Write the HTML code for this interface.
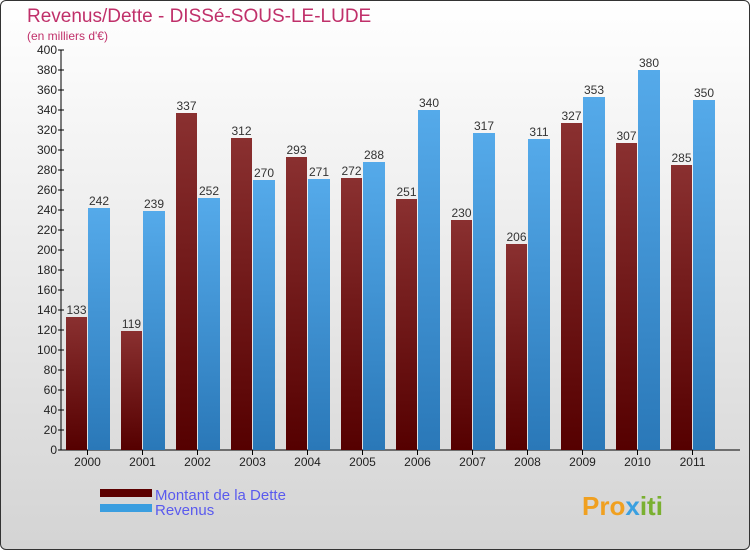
<!DOCTYPE html>
<html><head><meta charset="utf-8"><style>
body{margin:0;width:750px;height:550px;overflow:hidden;font-family:"Liberation Sans","DejaVu Sans",sans-serif}
#wrap{position:absolute;left:0;top:0;width:748px;height:548px;border:1px solid #333;border-radius:6px;background:linear-gradient(#ffffff,#d4d4d4);overflow:hidden}
</style></head><body>
<div id="wrap">
<svg id="chart" width="750" height="550" style="position:absolute;left:-1px;top:-1px">
<text x="27" y="22" font-size="19" fill="#c0306a">Revenus/Dette - DISSé-SOUS-LE-LUDE</text>
<text x="27" y="40" font-size="12" fill="#c0306a">(en milliers d'€)</text>
<g id="axes"></g><g id="bars"></g>
<rect x="100" y="489" width="52" height="8" fill="#5c0000"/>
<rect x="100" y="504" width="52" height="8" fill="#3a9ee0"/>
<text x="155" y="500" font-size="15" fill="#5a5aee">Montant de la Dette</text>
<text x="155" y="515" font-size="15" fill="#5a5aee">Revenus</text>
<text x="582" y="515" font-size="26" font-weight="bold" fill="#f0a020">Pro<tspan fill="#3aa0e0">x</tspan><tspan fill="#7ab030">iti</tspan></text>
</svg></div>
<script>
const years=["2000","2001","2002","2003","2004","2005","2006","2007","2008","2009","2010","2011"];
const dette=[133,119,337,312,293,272,251,230,206,327,307,285];
const revenus=[242,239,252,270,271,288,340,317,311,353,380,350];
const ticks=[0,20,40,60,80,100,120,140,160,180,200,220,240,260,280,300,320,340,360,380,400];
const NS="http://www.w3.org/2000/svg";
const y=v=>450-v*400/400;
const gx=i=>66+i*55;
const ax=document.getElementById('axes'),bg=document.getElementById('bars');
const defs=document.createElementNS(NS,'defs');
defs.innerHTML='<linearGradient id="gd" x1="0" y1="0" x2="0" y2="1"><stop offset="0" stop-color="#8a3030"/><stop offset="1" stop-color="#550000"/></linearGradient><linearGradient id="gr" x1="0" y1="0" x2="0" y2="1"><stop offset="0" stop-color="#55aaea"/><stop offset="1" stop-color="#2a78b8"/></linearGradient>';
document.getElementById('chart').appendChild(defs);
function mk(t,a,p){const e=document.createElementNS(NS,t);for(const k in a)e.setAttribute(k,a[k]);p.appendChild(e);return e;}
let l=mk('line',{x1:61,y1:50,x2:61,y2:450,stroke:'#000'},ax);


l=mk('line',{x1:61,y1:450,x2:740,y2:450,stroke:'#000'},ax);


ticks.forEach(t=>{mk('line',{x1:58,x2:64,y1:y(t),y2:y(t),stroke:'#000'},ax);
const tx=mk('text',{x:57,y:y(t)+4,'font-size':12,'text-anchor':'end',fill:'#222'},ax);tx.textContent=t;

});
years.forEach((yr,i)=>{const x=gx(i);
mk('line',{x1:x+21.5,x2:x+21.5,y1:450,y2:455,stroke:'#000'},ax);
const t=mk('text',{x:x+21.5,y:466,'font-size':12,'text-anchor':'middle',fill:'#222'},ax);t.textContent=yr;


const b1=mk('rect',{x:x,y:y(dette[i]),width:21,height:450-y(dette[i]),fill:'url(#gd)'},bg);


const b2=mk('rect',{x:x+22,y:y(revenus[i]),width:22,height:450-y(revenus[i]),fill:'url(#gr)'},bg);


const v1=mk('text',{x:x+10.5,y:y(dette[i])-3,'font-size':12,'text-anchor':'middle',fill:'#333'},bg);v1.textContent=dette[i];


const v2=mk('text',{x:x+33,y:y(revenus[i])-3,'font-size':12,'text-anchor':'middle',fill:'#333'},bg);v2.textContent=revenus[i];

});
</script>
</body></html>
